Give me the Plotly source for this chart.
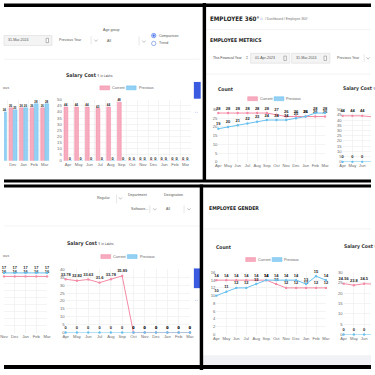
import plotly.graph_objects as go

W = H = 375

# ---------------- data ----------------
months = ["Apr", "May", "Jun", "Jul", "Aug", "Sep", "Oct", "Nov", "Dec", "Jan", "Feb", "Mar"]

count_current = [28, 28, 28, 28, 28, 28, 27, 26, 26, 26, 26, 26]
count_previous = [19, 20, 21, 22, 23, 24, 24, 24, 25, 26, 28, 28]

salary_current = [44, 44, 44, 43, 44, 48, 0, 0, 0, 0, 0, 0]
salary_previous = [0, 0, 0, 0, 0, 0, 0, 0, 0, 0, 0, 0]

dept_count_current = [16, 16, 16, 16, 16, 16, 16, 16, 16, 16, 16, 16]
dept_count_previous = [17, 17, 17, 17, 17, 17, 17, 17, 17, 17, 17, 17]

dept_salary_current = [33.78, 32.82, 33.63, 31.6, 33.78, 35.89, 0, 0, 0, 0, 0, 0]
dept_salary_previous = [0, 0, 0, 0, 0, 0, 0, 0, 0, 0, 0, 0]

gender_count_current = [14, 14, 14, 14, 14, 14, 13, 12, 12, 12, 12, 12]
gender_count_previous = [10, 11, 12, 12, 13, 14, 14, 14, 14, 13, 15, 14]

gender_salary_current = [24.56, 23.8, 24.5, 24.3, None, None, None, None, None, None, None, None]
gender_salary_previous = [0, 0, 0, 0, None, None, None, None, None, None, None, None]

# ---------------- style ----------------
PINK_FILL = "#f6abbe"
PINK_LINE = "#f48aa5"
BLUE_FILL = "#93d0f4"
BLUE_LINE = "#68c0ee"
GRID = "#ececec"
TICK = "#6b6b6b"
FONT = "Liberation Sans, Arial, sans-serif"
HEAD = "DejaVu Sans Condensed, Liberation Sans Narrow, Arial Narrow, sans-serif"


def X(px):
    return px / W


def Y(py):
    return 1 - py / H


fig = go.Figure()
layout_axes = {}


def axes(n, xpx, ypx, xrange, yrange, dtick, show_y=True, bar=False):
    xk = "xaxis" if n == 1 else f"xaxis{n}"
    yk = "yaxis" if n == 1 else f"yaxis{n}"
    layout_axes[xk] = dict(
        domain=[X(xpx[0]), X(xpx[1])], range=xrange, anchor="y" if n == 1 else f"y{n}",
        type="category", showgrid=True, gridcolor=GRID, gridwidth=0.6, zeroline=False,
        showline=False, ticks="", tickangle=0, tickfont=dict(size=4.2, color=TICK, family=FONT),
        tickson="boundaries" if bar else "labels", fixedrange=True,
    )
    layout_axes[yk] = dict(
        domain=[Y(ypx[1]), Y(ypx[0])], range=yrange, anchor="x" if n == 1 else f"x{n}",
        dtick=dtick, showgrid=True, gridcolor=GRID, gridwidth=0.6, zeroline=False,
        showline=False, ticks="", showticklabels=show_y,
        tickfont=dict(size=4.2, color=TICK, family=FONT), fixedrange=True,
    )


def refs(n):
    return ("x", "y") if n == 1 else (f"x{n}", f"y{n}")


LABEL_FONT = dict(size=4.0, color="#1d1d1d", family=FONT, weight="bold")


def bars(n, y, fill, edge):
    xr, yr = refs(n)
    fig.add_trace(go.Bar(
        x=months, y=y, xaxis=xr, yaxis=yr, marker=dict(color=fill, line=dict(color=edge, width=0.5)),
        texttemplate="%{y}", textposition="outside", textfont=LABEL_FONT,
        cliponaxis=False, hoverinfo="skip", showlegend=False,
    ))


def line(n, y, color):
    xr, yr = refs(n)
    fig.add_trace(go.Scatter(
        x=months, y=y, xaxis=xr, yaxis=yr, mode="lines+markers+text",
        line=dict(color=color, width=1), marker=dict(size=2.4, color=color),
        texttemplate="%{y}", textposition="top center", textfont=LABEL_FONT,
        cliponaxis=False, hoverinfo="skip", showlegend=False,
    ))


# 1: top-left cut count bar chart
axes(1, (0, 47), (98, 160), [7.15, 11.5], [0, 30], 5, show_y=False, bar=True)
bars(1, count_current, PINK_FILL, PINK_LINE)
bars(1, count_previous, BLUE_FILL, BLUE_LINE)
# 2: top-left salary bar chart
axes(2, (60, 191), (98, 160), [-0.5, 11.5], [0, 50], 5, bar=True)
bars(2, salary_current, PINK_FILL, PINK_LINE)
bars(2, salary_previous, BLUE_FILL, BLUE_LINE)
# 3: top-right count line chart
axes(3, (219, 328), (108, 161), [0, 11], [0, 30], 5)
line(3, count_current, PINK_LINE)
line(3, count_previous, BLUE_LINE)
# 4: top-right salary line chart (cut)
axes(4, (346, 375), (108, 161), [0, 2.9], [0, 50], 5)
line(4, salary_current, PINK_LINE)
line(4, salary_previous, BLUE_LINE)
# 5: bottom-left cut count line chart
axes(5, (0, 44), (270, 334), [7, 11], [0, 18], 2, show_y=False)
line(5, dept_count_current, PINK_LINE)
line(5, dept_count_previous, BLUE_LINE)
# 6: bottom-left salary line chart
axes(6, (63, 190), (270, 334), [0, 11], [0, 40], 5)
line(6, dept_salary_current, PINK_LINE)
line(6, dept_salary_previous, BLUE_LINE)
# 7: bottom-right count line chart
axes(7, (217, 329), (273, 336), [0, 11], [0, 16], 2)
line(7, gender_count_current, PINK_LINE)
line(7, gender_count_previous, BLUE_LINE)
# 8: bottom-right salary line chart (cut)
axes(8, (347, 375), (273, 336), [0, 2.67], [0, 30], 5)
line(8, gender_salary_current, PINK_LINE)
line(8, gender_salary_previous, BLUE_LINE)

shapes = []
ann = []


def rect(x0, y0, x1, y1, fill, edge=None, width=0):
    shapes.append(dict(type="rect", xref="paper", yref="paper", x0=X(x0), x1=X(x1), y0=Y(y1), y1=Y(y0),
                       fillcolor=fill, line=dict(color=edge or fill, width=width), layer="above"))


def hline(x0, x1, y, color="#eeeeee", width=0.7):
    shapes.append(dict(type="line", xref="paper", yref="paper", x0=X(x0), x1=X(x1), y0=Y(y), y1=Y(y),
                       line=dict(color=color, width=width)))


def vline(x, y0, y1, color="#dddddd", width=0.7):
    shapes.append(dict(type="line", xref="paper", yref="paper", x0=X(x), x1=X(x), y0=Y(y0), y1=Y(y1),
                       line=dict(color=color, width=width)))


def chevron(x, y, color="#9a9a9a"):
    shapes.append(dict(type="path", xref="paper", yref="paper",
                       path=f"M {X(x-1.6)},{Y(y-0.9)} L {X(x)},{Y(y+0.9)} L {X(x+1.6)},{Y(y-0.9)}",
                       line=dict(color=color, width=0.6)))


def circle(x, y, r, fill, edge, width=0.7):
    shapes.append(dict(type="circle", xref="paper", yref="paper", x0=X(x - r), x1=X(x + r), y0=Y(y + r), y1=Y(y - r),
                       fillcolor=fill, line=dict(color=edge, width=width)))


def txt(x, y, s, size=4.0, color="#333333", anchor="left", family=FONT):
    ann.append(dict(x=X(x), y=Y(y), xref="paper", yref="paper", text=s, showarrow=False,
                    xanchor=anchor, yanchor="middle", borderpad=0,
                    font=dict(size=size, color=color, family=family)))


def legend(xp, y):
    rect(xp, y - 2, xp + 10, y + 2, PINK_FILL, PINK_LINE, 0.5)
    txt(xp + 11.5, y, "Current", 3.8, "#666")
    rect(xp + 27, y - 2, xp + 37, y + 2, BLUE_FILL, BLUE_LINE, 0.5)
    txt(xp + 38.5, y, "Previous", 3.8, "#666")


def datebox(x0, x1, y, s):
    rect(x0, y - 5, x1, y + 5, "#f4f4f4", "#dcdcdc", 0.6)
    txt(x0 + 3, y, s, 3.6, "#555")
    rect(x1 - 6, y - 2.2, x1 - 3.5, y + 2.2, "#ffffff", "#888888", 0.6)


# ---------- top-left panel ----------
datebox(0, 49, 38, "31-Mar-2024")
txt(55, 38, "Previous Year", 3.6, "#555")
vline(89, 34, 42)
chevron(94, 38)
txt(100, 27, "Age group", 3.6, "#555")
txt(104, 39, "All", 3.6, "#555")
vline(138, 34, 43)
chevron(143, 39)
circle(153, 33, 2.2, "#ffffff", "#3f6ee8", 0.7)
circle(153, 33, 1.1, "#3f6ee8", "#3f6ee8", 0.3)
txt(157, 33, "Comparison", 3.6, "#555")
circle(153, 41, 2.2, "#ffffff", "#6f8fe8", 0.7)
txt(157, 41, "Trend", 3.6, "#555")
hline(0, 200, 57)
txt(62, 73, "<b>Salary Cost</b> <span style='font-size:3.3px'>₹ in Lakhs</span>", 5.2, "#333", family=HEAD)
txt(-2, 86, "ous", 3.8, "#666")
legend(98, 86)
rect(194, 80, 201, 97, "#3a5be0")
txt(197, 110, "↔", 4.5, "#3a5be0", anchor="center")

# ---------- top-right panel ----------
txt(209, 16, "<b>EMPLOYEE 360°</b>", 6.2, "#222", family=HEAD)
txt(261, 16, "⌂", 4.5, "#7d8ad8")
txt(266, 16, "/ Dashboard / Employee 360°", 3.3, "#777")
hline(207, 375, 27)
txt(209, 37, "<b>EMPLOYEE METRICS</b>", 5.1, "#222", family=HEAD)
txt(213, 56, "This Financial Year", 3.4, "#444")
txt(246, 56, "‡", 3.6, "#444")
datebox(252, 292, 56, "01-Apr-2023")
datebox(294, 333, 56, "31-Mar-2024")
txt(339, 56, "Previous Year", 3.6, "#555")
vline(368, 52, 60)
chevron(372, 56)
hline(207, 375, 72)
txt(218, 87, "<b>Count</b>", 5.0, "#333", family=HEAD)
txt(345, 87, "<b>Salary Cost</b> <span style='font-size:3.3px'>₹ in Lakhs</span>", 5.0, "#333", family=HEAD)
legend(249, 97)

# ---------- bottom-left panel ----------
txt(94, 198, "Regular", 3.6, "#555")
vline(115, 194, 203)
chevron(119, 198)
txt(126, 195, "Department", 3.6, "#555")
txt(162, 195, "Designation", 3.6, "#555")
txt(129, 209, "Software...", 3.6, "#555")
vline(149, 205, 213)
chevron(154, 209)
txt(164, 209, "All", 3.6, "#555")
vline(184, 205, 213)
chevron(189, 209)
hline(0, 200, 226)
txt(63, 244, "<b>Salary Cost</b> <span style='font-size:3.3px'>₹ in Lakhs</span>", 5.2, "#333", family=HEAD)
txt(-2, 256, "ous", 3.8, "#666")
legend(99, 257)
rect(194, 269, 201, 289, "#3a5be0")
txt(197, 300, "↔", 4.5, "#3a5be0", anchor="center")

# ---------- bottom-right panel ----------
txt(208, 208, "<b>EMPLOYEE GENDER</b>", 5.1, "#222", family=HEAD)
hline(204, 375, 229)
txt(216, 247, "<b>Count</b>", 5.0, "#333", family=HEAD)
txt(346, 247, "<b>Salary Cost</b> <span style='font-size:3.3px'>₹ in Lakhs</span>", 5.0, "#333", family=HEAD)
legend(247, 260)
rect(203, 357, 375, 367, "#f1f2f5")

# ---------- black frame bands ----------
rect(0, 0.5, 375, 4, "#000000")
rect(203, 0, 206.5, 181, "#000000")
rect(0, 179, 375, 182, "#000000")
rect(0, 184, 375, 187, "#000000")
rect(200, 184, 203.5, 372, "#000000")
rect(0, 367, 375, 371, "#000000")

fig.update_layout(
    width=W, height=H, margin=dict(l=0, r=0, t=0, b=0),
    paper_bgcolor="#ffffff", plot_bgcolor="#ffffff",
    barmode="group", bargap=0.2, bargroupgap=0.1,
    shapes=shapes, annotations=ann, showlegend=False,
    font=dict(family=FONT),
    **layout_axes,
)

fig.write_html(
    "out.html",
    config={"displayModeBar": False, "staticPlot": True},
    post_script="document.body.style.margin='0';document.body.style.overflow='hidden';",
)
